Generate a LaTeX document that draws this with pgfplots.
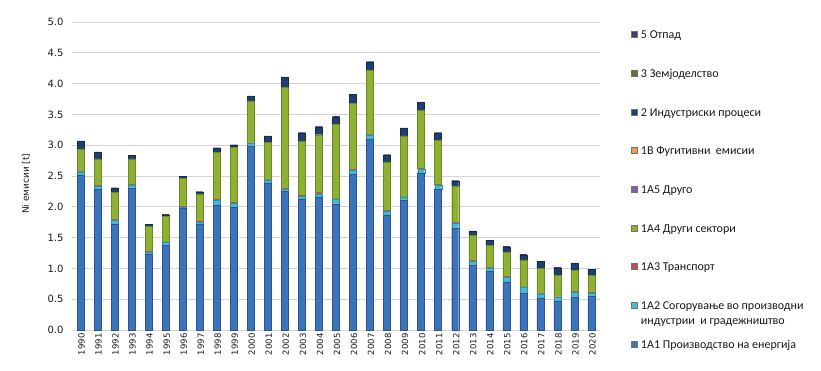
\documentclass[border=0pt]{standalone}
\usepackage{pgfplots}
\pgfplotsset{compat=1.18}
\usepackage{pgfplotstable}
\usepackage{fontspec}
\setmainfont{Carlito}
\newfontfamily\tickfont{DejaVu Sans}

\definecolor{cA}{HTML}{3C73BA}\definecolor{cAd}{HTML}{2A5690}
\definecolor{cB}{HTML}{48B8D8}\definecolor{cBd}{HTML}{2E8FAA}
\definecolor{cC}{HTML}{C0504D}
\definecolor{cD}{HTML}{8DB035}\definecolor{cDd}{HTML}{6C8A22}
\definecolor{cE}{HTML}{8064A2}
\definecolor{cF}{HTML}{F79646}
\definecolor{cG}{HTML}{1F3F6E}\definecolor{cGd}{HTML}{142B4C}
\definecolor{cH}{HTML}{5C7A28}
\definecolor{cI}{HTML}{4A3A66}

\pgfplotstableread{
x eA eB eC eD eE eF ind agr waste
0 2.52 0.05 0.01 0.36 0 0 0.12 0 0.01
1 2.28 0.05 0.02 0.43 0 0 0.10 0 0.01
2 1.72 0.06 0.02 0.43 0 0 0.07 0 0.01
3 2.31 0.04 0.01 0.42 0 0 0.05 0 0.01
4 1.23 0.04 0.01 0.40 0 0 0.03 0 0.01
5 1.37 0.05 0.01 0.42 0 0 0.02 0 0.01
6 1.98 0.02 0.01 0.45 0 0 0.03 0 0.01
7 1.72 0.03 0.02 0.44 0 0 0.03 0 0.01
8 2.02 0.09 0.01 0.76 0 0 0.07 0 0.01
9 1.99 0.07 0.01 0.90 0 0 0.03 0 0.01
10 2.98 0.05 0.01 0.68 0 0 0.07 0 0.01
11 2.39 0.05 0.01 0.60 0 0 0.09 0 0.01
12 2.25 0.04 0.01 1.64 0 0 0.16 0 0.01
13 2.12 0.05 0.02 0.88 0 0 0.13 0 0.01
14 2.16 0.05 0.02 0.94 0 0 0.13 0 0.01
15 2.05 0.07 0.01 1.21 0 0 0.12 0 0.01
16 2.53 0.07 0.01 1.07 0 0 0.14 0 0.01
17 3.10 0.07 0.01 1.03 0 0 0.14 0 0.01
18 1.87 0.06 0.01 0.79 0 0 0.11 0 0.01
19 2.11 0.04 0.01 0.99 0 0 0.12 0 0.01
20 2.55 0.06 0.01 0.95 0 0 0.12 0 0.01
21 2.29 0.06 0.01 0.72 0 0 0.12 0 0.01
22 1.66 0.08 0.01 0.59 0 0 0.08 0 0.01
23 1.06 0.06 0.01 0.41 0 0 0.06 0 0.01
24 0.95 0.06 0.01 0.35 0 0 0.08 0 0.01
25 0.78 0.08 0.01 0.40 0 0 0.08 0 0.01
26 0.60 0.09 0.01 0.44 0 0 0.08 0 0.01
27 0.51 0.08 0.01 0.40 0 0 0.11 0 0.01
28 0.46 0.07 0.01 0.35 0 0 0.12 0 0.01
29 0.54 0.08 0.01 0.34 0 0 0.11 0 0.01
30 0.55 0.05 0.01 0.28 0 0 0.09 0 0.01
}\datatable

\begin{document}
\begin{tikzpicture}
\begin{axis}[
  scale only axis, width=528pt, height=308pt,
  ybar stacked, bar width=7pt,
  xmin=-0.5, xmax=30.5, ymin=0, ymax=5,
  enlargelimits=false,
  ytick={0,0.5,1,1.5,2,2.5,3,3.5,4,4.5,5},
  xtick={0,...,30},
  xticklabels={1990,1991,1992,1993,1994,1995,1996,1997,1998,1999,2000,2001,2002,2003,2004,2005,2006,2007,2008,2009,2010,2011,2012,2013,2014,2015,2016,2017,2018,2019,2020},
  yticklabel style={/pgf/number format/fixed, /pgf/number format/fixed zerofill, /pgf/number format/precision=1, /pgf/number format/assume math mode=true},
  y tick label style={font=\tickfont\fontsize{10}{12}\selectfont, text=black!90, xshift=-5pt},
  x tick label style={rotate=90, anchor=east, font=\tickfont\fontsize{8.5}{10}\selectfont, text=black!90, yshift=-1pt},
  tick style={draw=none},
  axis line style={draw=none},
  ymajorgrids, grid style={draw=black!17, line width=0.8pt},
  ylabel={Ni емисии [t]},
  ylabel style={font=\tickfont\fontsize{9}{11}\selectfont, text=black!90, at={(axis description cs:-0.087,0.475)}, anchor=center},
  reverse legend,
  legend cell align=left,
  legend image code/.code={\draw[#1, draw=black!55, line width=0.3pt] (0pt,-3pt) rectangle (6pt,3pt);},
  legend style={at={(axis description cs:1.0587,0.985)}, anchor=north west, draw=none, fill=none,
    font=\fontsize{12}{14.5}\selectfont, text=black!90, row sep=23pt, column sep=1.5pt, inner sep=0pt,
    nodes={inner sep=2pt}},
]
\addplot[fill=cA, draw=cAd, line width=0.4pt] table[x=x, y=eA] {\datatable};
\addplot[fill=cB, draw=cBd, line width=0.3pt] table[x=x, y=eB] {\datatable};
\addplot[fill=cC, draw=none] table[x=x, y=eC] {\datatable};
\addplot[fill=cD, draw=cDd, line width=0.4pt] table[x=x, y=eD] {\datatable};
\addplot[fill=cE, draw=none] table[x=x, y=eE] {\datatable};
\addplot[fill=cF, draw=none] table[x=x, y=eF] {\datatable};
\addplot[fill=cG, draw=cGd, line width=0.4pt] table[x=x, y=ind] {\datatable};
\addplot[fill=cH, draw=none] table[x=x, y=agr] {\datatable};
\addplot[fill=cI, draw=none] table[x=x, y=waste] {\datatable};
\legend{\strut 1A1 Производство на енергија,
  \strut\raisebox{0pt}[\height][0pt]{\vtop{\hbox{\strut 1A2 Согорување во производни}\hbox{\strut индустрии\ \ и градежништво}}},
  \strut 1A3 Транспорт,
  \strut 1A4 Други сектори,
  \strut 1A5 Друго,
  \strut 1B Фугитивни\ \ емисии,
  \strut 2 Индустриски процеси,
  \strut 3 Земјоделство,
  \strut 5 Отпад}
\end{axis}
\pgfresetboundingbox
\path ([shift={(-72pt,-40pt)}]current axis.south west) rectangle ([shift={(221pt,22pt)}]current axis.north east);
\end{tikzpicture}
\end{document}
